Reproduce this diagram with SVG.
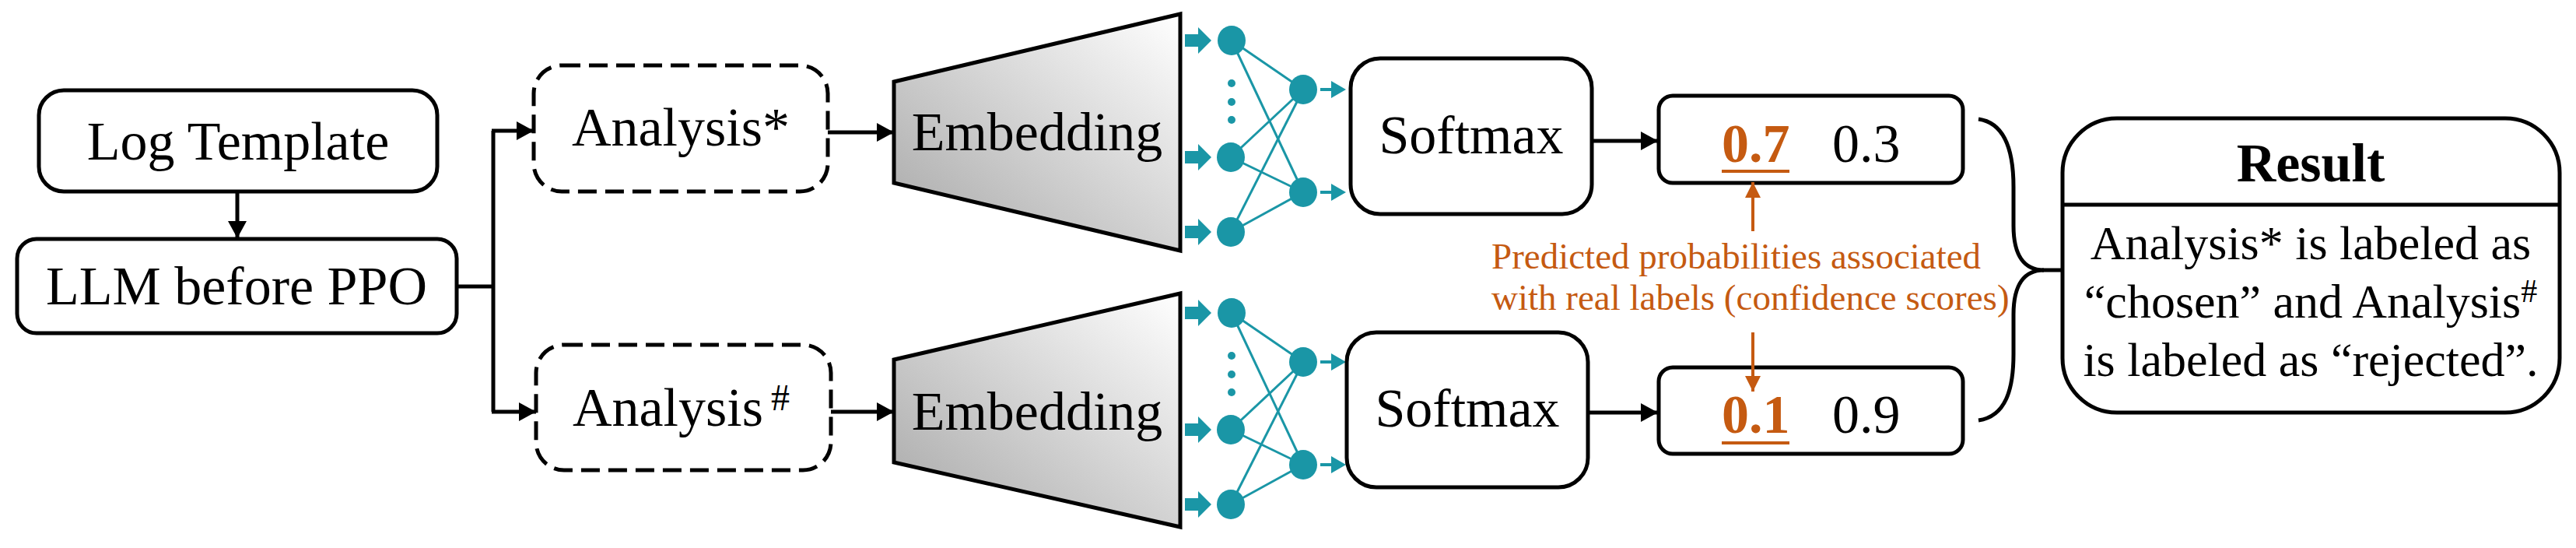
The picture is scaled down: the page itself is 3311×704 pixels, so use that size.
<svg xmlns="http://www.w3.org/2000/svg" xmlns:xlink="http://www.w3.org/1999/xlink" width="3311" height="704" viewBox="0 0 3311 704">
<style>
.box{fill:#fff;stroke:#000;stroke-width:5}
.dash{fill:#fff;stroke:#000;stroke-width:5;stroke-dasharray:24 11}
.t{font-family:"Liberation Serif","Times New Roman",serif;font-size:70px;fill:#000}
.s47{font-size:47px}
.s62{font-size:62px}
.b{font-weight:bold}
.tc{text-anchor:middle}
.conn{stroke:#000;stroke-width:5;fill:none}
.oc{stroke:#c55a11;stroke-width:4;fill:none}
.teal{fill:#1a96a6}
.tl{stroke:#1a96a6;stroke-width:3}
.or{fill:#c55a11}
.trap{fill:url(#grad);stroke:#000;stroke-width:5;stroke-linejoin:miter}
</style>
<defs>
<linearGradient id="grad" x1="0" y1="1" x2="1" y2="0">
<stop offset="0" stop-color="#a6a6a6"/>
<stop offset="1" stop-color="#ffffff"/>
</linearGradient>
<marker id="ah" markerUnits="userSpaceOnUse" markerWidth="22" markerHeight="24" refX="22" refY="12" orient="auto">
<path d="M0,0 L22,12 L0,24 Z" fill="#000"/>
</marker>
<marker id="ao" markerUnits="userSpaceOnUse" markerWidth="20" markerHeight="20" refX="20" refY="10" orient="auto">
<path d="M0,0 L20,10 L0,20 Z" fill="#c55a11"/>
</marker>
<path id="bigArrow" class="teal" d="M0,-8 H17 V-17 L34,0 L17,17 V8 H0 Z"/>
<path id="smallArrow" class="teal" d="M0,-2 H14 V-11 L33,0 L14,11 V2 H0 Z"/>
<g id="nnet">
<g class="tl">
<line x1="1583" y1="52" x2="1675" y2="115"/>
<line x1="1583" y1="52" x2="1675" y2="247"/>
<line x1="1582" y1="202" x2="1675" y2="115"/>
<line x1="1582" y1="202" x2="1675" y2="247"/>
<line x1="1582" y1="298" x2="1675" y2="115"/>
<line x1="1582" y1="298" x2="1675" y2="247"/>
</g>
<use href="#bigArrow" x="1523" y="52"/>
<use href="#bigArrow" x="1523" y="202"/>
<use href="#bigArrow" x="1523" y="298"/>
<ellipse class="teal" cx="1583" cy="52" rx="18" ry="19"/>
<ellipse class="teal" cx="1582" cy="202" rx="18" ry="19"/>
<ellipse class="teal" cx="1582" cy="298" rx="18" ry="19"/>
<circle class="teal" cx="1583" cy="107" r="5"/>
<circle class="teal" cx="1583" cy="131" r="5"/>
<circle class="teal" cx="1583" cy="154" r="5"/>
<ellipse class="teal" cx="1675" cy="115" rx="18" ry="19"/>
<ellipse class="teal" cx="1675" cy="247" rx="18" ry="19"/>
<use href="#smallArrow" x="1697" y="115"/>
<use href="#smallArrow" x="1697" y="247"/>
</g>
</defs>
<rect width="3311" height="704" fill="#fff"/>

<g id="log-template">
<rect class="box" x="50" y="116" width="512" height="130" rx="32"/>
<text class="t tc" x="306" y="205">Log Template</text>
</g>

<g id="llm-before-ppo">
<rect class="box" x="22" y="307" width="565" height="121" rx="25"/>
<text class="t tc" x="304" y="391">LLM before PPO</text>
</g>

<g id="analysis-star">
<rect class="dash" x="686" y="84" width="378" height="162" rx="36"/>
<text class="t tc" x="875" y="187">Analysis*</text>
</g>

<g id="analysis-hash">
<rect class="dash" x="689" y="443" width="379" height="161" rx="36"/>
<text class="t" x="736" y="547">Analysis<tspan dx="10" dy="-20" font-size="48">#</tspan></text>
</g>

<g id="embedding-top">
<polygon class="trap" points="1149,105 1517,18 1517,322 1149,235"/>
<text class="t tc" x="1333" y="193">Embedding</text>
</g>

<g id="embedding-bottom">
<polygon class="trap" points="1149,462 1517,377 1517,677 1149,594"/>
<text class="t tc" x="1333" y="552">Embedding</text>
</g>

<g id="nn-top">
<use href="#nnet"/>
</g>
<g id="nn-bottom">
<use href="#nnet" transform="translate(0,350)"/>
</g>

<g id="softmax-top">
<rect class="box" x="1736" y="75" width="310" height="200" rx="38"/>
<text class="t tc" x="1891" y="197">Softmax</text>
</g>

<g id="softmax-bottom">
<rect class="box" x="1731" y="427" width="310" height="199" rx="38"/>
<text class="t tc" x="1886" y="548">Softmax</text>
</g>

<g id="prob-top">
<rect class="box" x="2132" y="123" width="391" height="112" rx="18"/>
<text class="t or b" x="2213" y="208">0.7</text>
<line class="oc" x1="2213" y1="220" x2="2300" y2="220"/>
<text class="t" x="2355" y="208">0.3</text>
</g>

<g id="prob-bottom">
<rect class="box" x="2132" y="472" width="391" height="111" rx="18"/>
<text class="t or b" x="2213" y="556">0.1</text>
<line class="oc" x1="2213" y1="569" x2="2300" y2="569"/>
<text class="t" x="2355" y="556">0.9</text>
</g>

<g id="annotation">
<text class="t or s47" x="1917" y="345">Predicted probabilities associated</text>
<text class="t or s47" x="1917" y="398">with real labels (confidence scores)</text>
</g>

<g id="result">
<rect class="box" x="2651" y="152" width="639" height="378" rx="70"/>
<line class="conn" x1="2651" y1="263" x2="3290" y2="263"/>
<text class="t tc b" x="2970" y="233">Result</text>
<text class="t tc s62" x="2970" y="333">Analysis* is labeled as</text>
<text class="t tc s62" x="2970" y="408">“chosen” and Analysis<tspan dy="-20" font-size="42">#</tspan></text>
<text class="t tc s62" x="2970" y="483">is labeled as “rejected”.</text>
</g>

<g id="connectors">
<line class="conn" x1="305" y1="246" x2="305" y2="306" marker-end="url(#ah)"/>
<polyline class="conn" points="587,368 634,368"/>
<polyline class="conn" points="634,168 634,529"/>
<line class="conn" x1="632" y1="168" x2="686" y2="168" marker-end="url(#ah)"/>
<line class="conn" x1="632" y1="529" x2="689" y2="529" marker-end="url(#ah)"/>
<line class="conn" x1="1064" y1="170" x2="1149" y2="170" marker-end="url(#ah)"/>
<line class="conn" x1="1068" y1="529" x2="1149" y2="529" marker-end="url(#ah)"/>
<line class="conn" x1="2046" y1="181" x2="2131" y2="181" marker-end="url(#ah)"/>
<line class="conn" x1="2041" y1="530" x2="2131" y2="530" marker-end="url(#ah)"/>
<line class="oc" x1="2253" y1="297" x2="2253" y2="234" marker-end="url(#ao)"/>
<line class="oc" x1="2253" y1="427" x2="2253" y2="503" marker-end="url(#ao)"/>
<path class="conn" d="M2543,153 C2578,158 2588,195 2588,240 L2588,290 C2588,330 2603,347 2627,347 C2603,347 2588,364 2588,404 L2588,455 C2588,500 2578,535 2543,540"/>
<line class="conn" x1="2625" y1="347" x2="2651" y2="347"/>
</g>
</svg>
